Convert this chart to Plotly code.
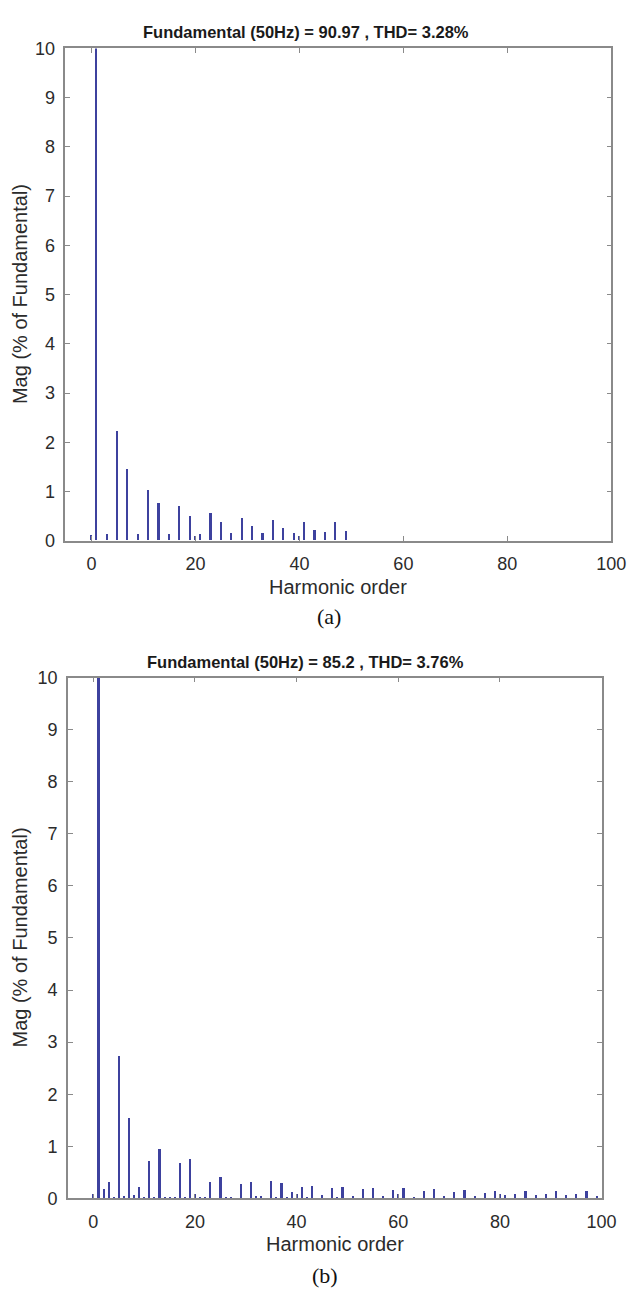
import plotly.graph_objects as go

# ---------------- data ----------------
title_a = "Fundamental (50Hz) = 90.97 , THD= 3.28%"
title_b = "Fundamental (50Hz) = 85.2 , THD= 3.76%"

a_orders = [0, 1, 3, 5, 7, 9, 11, 13, 15, 17, 19, 20, 21, 23, 25, 27, 29, 31,
            33, 35, 37, 39, 40, 41, 43, 45, 47, 49]
a_mag = [0.10, 100.0, 0.13, 2.22, 1.44, 0.13, 1.03, 0.75, 0.13, 0.70, 0.50,
         0.08, 0.13, 0.55, 0.37, 0.14, 0.46, 0.30, 0.14, 0.41, 0.25, 0.15,
         0.08, 0.38, 0.21, 0.16, 0.37, 0.18]

b_orders = [0, 1, 2, 3, 4, 5, 6, 7, 8, 9, 10, 11, 12, 13, 14, 15, 16, 17, 18,
            19, 20, 21, 22, 23, 25, 26, 27, 29, 31, 32, 33, 35, 36, 37, 38, 39,
            40, 41, 42, 43, 45, 47, 48, 49, 51, 53, 55, 57, 59, 60, 61, 63, 65,
            67, 69, 71, 73, 75, 77, 79, 80, 81, 83, 85, 87, 89, 91, 93, 95, 97,
            99]
b_mag = [0.09, 100.0, 0.18, 0.33, 0.03, 2.75, 0.06, 1.56, 0.08, 0.22, 0.03,
         0.72, 0.03, 0.96, 0.02, 0.02, 0.02, 0.68, 0.02, 0.77, 0.09, 0.03,
         0.02, 0.33, 0.42, 0.03, 0.03, 0.28, 0.33, 0.05, 0.05, 0.35, 0.03,
         0.30, 0.03, 0.14, 0.09, 0.23, 0.03, 0.24, 0.08, 0.20, 0.03, 0.22,
         0.06, 0.19, 0.21, 0.05, 0.17, 0.09, 0.21, 0.04, 0.15, 0.18, 0.06,
         0.13, 0.17, 0.06, 0.12, 0.16, 0.09, 0.07, 0.10, 0.15, 0.07, 0.09,
         0.16, 0.07, 0.09, 0.16, 0.06]

x_ticks = [0, 20, 40, 60, 80, 100]
y_ticks = [0, 1, 2, 3, 4, 5, 6, 7, 8, 9, 10]
x_label = "Harmonic order"
y_label = "Mag (% of Fundamental)"
captions = ["(a)", "(b)"]

# ---------------- layout geometry (pixels) ----------------
W, H = 641, 1298
BAR_COLOR = "#3d419e"
AX_COLOR = "#8a8a8a"
TXT = "#2b2b2b"
FONT = "Liberation Sans, Arial, sans-serif"

def fx(px):
    return px / W

def fy(py):
    return 1 - py / H

panels = [
    dict(x0=67, x1=626, y0=39, y1=539, title=title_a, title_y=22,
         xlab_y=586, cap_y=616, orders=a_orders, mag=a_mag),
    dict(x0=69.5, x1=616, y0=678, y1=1207, title=title_b, title_y=662,
         xlab_y=1253, cap_y=1285, orders=b_orders, mag=b_mag),
]

fig = go.Figure()
annotations = []
for i, p in enumerate(panels):
    n = "" if i == 0 else str(i + 1)
    fig.add_trace(go.Bar(x=p["orders"], y=p["mag"], width=0.42,
                         marker=dict(color=BAR_COLOR, line=dict(width=0)),
                         xaxis="x" + n, yaxis="y" + n, showlegend=False,
                         hoverinfo="x+y"))
    axis_common = dict(showline=True, linecolor=AX_COLOR, linewidth=1.5,
                       mirror="ticks", ticks="inside", ticklen=5,
                       tickwidth=1.2, tickcolor=AX_COLOR, showgrid=False,
                       zeroline=False,
                       tickfont=dict(family=FONT, size=18, color=TXT))
    fig.layout["xaxis" + n] = dict(
        axis_common, domain=[fx(p["x0"]), fx(p["x1"])], range=[-5, 100],
        tickvals=x_ticks, anchor="y" + n, ticklabelstandoff=6)
    fig.layout["yaxis" + n] = dict(
        axis_common, domain=[fy(p["y1"]), fy(p["y0"])], range=[0, 10],
        tickvals=y_ticks, anchor="x" + n, ticklabelstandoff=5)
    cx = (p["x0"] + p["x1"]) / 2
    annotations += [
        dict(text="<b>%s</b>" % p["title"], x=fx(313), y=fy(p["title_y"]),
             xanchor="center", yanchor="middle",
             font=dict(family=FONT, size=16.5, color="#1a1a1a")),
        dict(text=x_label, x=fx(cx), y=fy(p["xlab_y"]),
             xanchor="center", yanchor="middle",
             font=dict(family=FONT, size=20, color=TXT)),
        dict(text=y_label, x=fx(20), y=fy((p["y0"] + p["y1"]) / 2),
             xanchor="center", yanchor="middle", textangle=-90,
             font=dict(family=FONT, size=20, color=TXT)),
        dict(text=captions[i], x=fx(cx - 10), y=fy(p["cap_y"]),
             xanchor="center", yanchor="middle",
             font=dict(family="Liberation Serif, Times New Roman, serif",
                       size=22, color="#111111")),
    ]
for a in annotations:
    a.update(xref="paper", yref="paper", showarrow=False)

fig.update_layout(width=W, height=H, autosize=False,
                  margin=dict(l=0, r=0, t=0, b=0, pad=0),
                  paper_bgcolor="white", plot_bgcolor="white",
                  bargap=0, annotations=annotations)

fig.write_html("out.html", config={"displayModeBar": False},
               post_script="document.body.style.margin='0';"
                           "document.body.style.overflow='hidden';")
